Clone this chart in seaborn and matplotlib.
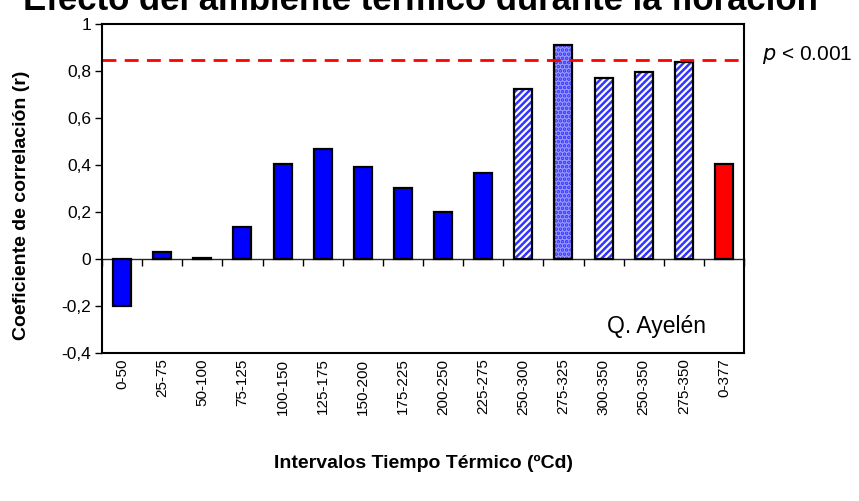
import numpy as np
import pandas as pd
import seaborn as sns
import matplotlib.pyplot as plt

intervalos = ["0-50", "25-75", "50-100", "75-125", "100-150", "125-175", "150-200",
              "175-225", "200-250", "225-275", "250-300", "275-325", "300-350",
              "250-350", "275-350", "0-377"]
r_vals = [-0.20, 0.03, 0.005, 0.135, 0.405, 0.47, 0.39, 0.30, 0.20, 0.365,
          0.725, 0.91, 0.77, 0.795, 0.84, 0.405]
colores = ["#0000ff"] * 10 + ["#ffffff", "#9999ff", "#ffffff", "#ffffff", "#ffffff", "#ff0000"]
tramas = [""] * 10 + ["/////", "....", "/////", "/////", "/////", ""]
umbral = 0.845
yticks = [-0.4, -0.2, 0, 0.2, 0.4, 0.6, 0.8, 1]

sns.set_style("white")
plt.rcParams['font.family'] = ['Liberation Sans', 'DejaVu Sans']
plt.rcParams['hatch.linewidth'] = 1.8
for k in ['text.color', 'axes.labelcolor', 'xtick.color', 'ytick.color']:
    plt.rcParams[k] = 'black'

df = pd.DataFrame({"intervalo": intervalos, "r": r_vals})

fig = plt.figure(figsize=(8.59, 5.01), dpi=100)
ax = fig.add_axes([102 / 859, 1 - 353 / 501, (744 - 102) / 859, (353 - 24) / 501])

# capa de relleno con tramas azules
sns.barplot(data=df, x="intervalo", y="r", hue="intervalo", palette=colores,
            width=0.45, linewidth=0, edgecolor="#0000ff", saturation=1,
            legend=False, ax=ax)
for p, h in zip(ax.patches, tramas):
    if h:
        p.set_hatch(h)
        p.set_edgecolor("#3333ff")
        p.set_linewidth(0)
# contorno negro
sns.barplot(data=df, x="intervalo", y="r", fill=False, width=0.45,
            edgecolor="black", linewidth=1.6, ax=ax)

ax.axhline(umbral, color="red", ls=(0, (5, 3)), lw=2)

ax.set_ylim(-0.4, 1)
ax.set_xlim(-0.5, len(intervalos) - 0.5)
ax.set_yticks(yticks)
ax.set_yticklabels([f"{v:g}".replace(".", ",") for v in yticks], fontsize=12.5)
ax.tick_params(axis="y", direction="out", length=5, width=1, left=True, pad=3)
ax.tick_params(axis="x", length=0, pad=4)
ax.set_xticks(range(len(intervalos)))
ax.set_xticklabels(intervalos, rotation=90, fontsize=11)
for s in ax.spines.values():
    s.set_color("black")
    s.set_linewidth(1.5)

# eje de categorias en cero
sec = ax.secondary_xaxis(0.4 / 1.4)
sec.set_xticks(np.arange(len(intervalos) + 1) - 0.5)
sec.set_xticklabels([])
sec.tick_params(direction="out", length=5, width=1, color="black")
sec.spines["bottom"].set_linewidth(1)

ax.set_xlabel("")
ax.set_ylabel("")
fig.text(22 / 859, 1 - 205 / 501, "Coeficiente de correlación (r)", rotation=90,
         ha="center", va="center", fontsize=14, fontweight="bold")
fig.text(423 / 859, 1 - 463 / 501, "Intervalos Tiempo Térmico (ºCd)", ha="center",
         va="center", fontsize=14, fontweight="bold")

ax.text(0.863, 0.08, "Q. Ayelén", transform=ax.transAxes, ha="center", va="center", fontsize=16.5)
fig.text(762 / 859, 1 - 55 / 501, "$\\it{p}$ < 0.001", ha="left", va="center", fontsize=15)

fig.text(420 / 859, 1 - 10 / 501, "Efecto del ambiente térmico durante la floración",
         ha="center", va="baseline", fontsize=25, fontweight="bold")

fig.savefig("out.png", dpi=100)
